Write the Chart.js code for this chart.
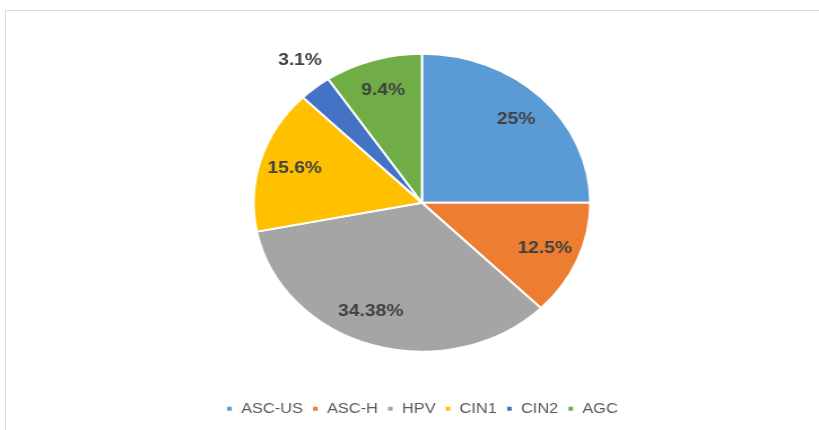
<!DOCTYPE html>
<html>
<head>
<meta charset="utf-8">
<script src="https://cdn.jsdelivr.net/npm/chart.js@4"></script>
<style>
  html, body { margin: 0; padding: 0; background: #fff; overflow: hidden; }
  #frame {
    position: absolute; left: 5px; top: 10px; width: 900px; height: 500px;
    border-left: 1px solid #dcdcdc; border-top: 1px solid #dcdcdc;
  }
  /* the original picture is stretched sideways, so the chart is drawn narrower and widened */
  #wrap {
    position: absolute; left: 0; top: 0; width: 725px; height: 430px;
    transform: scaleX(1.1297); transform-origin: 0 0;
  }
</style>
</head>
<body>
<div id="frame"></div>
<div id="wrap"><canvas id="pieChart"></canvas></div>
<script>
// categories and their shares (percent)
const categories = ['ASC-US', 'ASC-H', 'HPV', 'CIN1', 'CIN2', 'AGC'];
const shares = [25, 12.5, 34.38, 15.6, 3.1, 9.4];
const colors = ['#5B9BD5', '#ED7D31', '#A5A5A5', '#FFC000', '#4472C4', '#70AD47'];

// draws the percent labels inside the slices (the tiny one sits outside)
const sliceLabels = {
    id: 'sliceLabels',
    afterDatasetsDraw(chart) {
        const ctx = chart.ctx;
        const arcs = chart.getDatasetMeta(0).data;
        ctx.save();
        ctx.font = 'bold 17px "Liberation Sans", Arial, sans-serif';
        ctx.fillStyle = '#404040';
        ctx.textAlign = 'center';
        ctx.textBaseline = 'middle';
        arcs.forEach((arc, i) => {
            const p = arc.getProps(['x', 'y', 'startAngle', 'endAngle', 'outerRadius'], true);
            const mid = (p.startAngle + p.endAngle) / 2;
            let r = p.outerRadius * 0.79;
            let a = mid;
            if (shares[i] < 5) { r = p.outerRadius * 1.2; a = mid + 0.04; }
            if (shares[i] > 30) { a = mid + 0.1; }
            ctx.fillText(shares[i] + '%', p.x + Math.cos(a) * r, p.y + Math.sin(a) * r);
        });
        ctx.restore();
    }
};

const ctx = document.getElementById('pieChart').getContext('2d');
new Chart(ctx, {
    type: 'pie',
    data: {
        labels: categories,
        datasets: [{
            data: shares,
            backgroundColor: colors,
            borderColor: '#ffffff',
            borderWidth: 2,
            radius: 149
        }]
    },
    options: {
        responsive: true,
        maintainAspectRatio: false,
        animation: false,
        layout: { padding: { left: 22, top: 12, bottom: 4 } },
        plugins: {
            tooltip: { enabled: false },
            legend: {
                position: 'bottom',
                labels: {
                    boxWidth: 6,
                    boxHeight: 6,
                    padding: 8,
                    color: '#595959',
                    font: { size: 14.5, family: '"Liberation Sans", Arial, sans-serif' }
                }
            }
        }
    },
    plugins: [sliceLabels]
});
</script>
</body>
</html>
